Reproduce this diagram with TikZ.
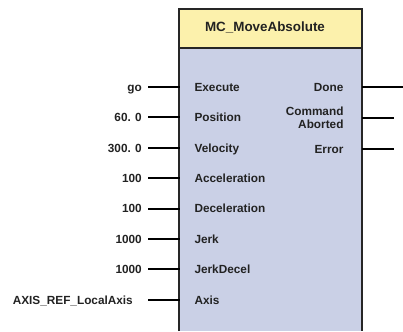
\documentclass[tikz,border=0pt]{standalone}
\usepackage{fontspec}
\setmainfont{Liberation Sans}
\usepackage{xcolor}
\usetikzlibrary{positioning,calc}

\definecolor{headyellow}{HTML}{FCF1AC}
\definecolor{bodyblue}{HTML}{CAD0E6}
\definecolor{txtgrey}{HTML}{222222}

\tikzset{
    pintext/.style={font=\fontsize{11.8}{13}\selectfont\bfseries, text=txtgrey, text height=8.5pt, text depth=0pt},
    pinname/.style={pintext, anchor=west},
    outname/.style={pintext, anchor=east, align=right},
    inval/.style={pintext, anchor=east, inner xsep=0pt},
    wire/.style={line width=2pt, black}
}

\begin{document}
\begin{tikzpicture}[x=1pt, y=1pt]
        \useasboundingbox (0, 0) rectangle (403, 331);

        % block
        \fill [bodyblue] (179, 0) rectangle (362, 283);
        \fill [headyellow] (179, 283) rectangle (362, 322);
        \draw [line width=1.6pt, black!85] (179, 0) -- (179, 322) -- (362, 322) -- (362, 0);
        \draw [line width=1.6pt, black!85] (179, 283) -- (362, 283);
        \node [font=\fontsize{13.4}{15}\selectfont\bfseries, text=txtgrey] (title) at (265, 304) {MC\_MoveAbsolute};

        % inputs
        \foreach \i/\pin/\val/\gap [count=\n] in {1/Execute/go/6, 2/Position/60. 0/6, 3/Velocity/300. 0/6,
            4/Acceleration/100/6, 5/Deceleration/100/6, 6/Jerk/1000/6, 7/JerkDecel/1000/6,
            8/Axis/AXIS\_REF\_LocalAxis/15} {
            \pgfmathsetmacro{\yy}{331 - 87 - 30.4*(\n-1)}
            \coordinate (in\i) at (180, \yy);
            \coordinate (lead\i) at (148, \yy);
            \node [pinname] (pin\i) at (191, \yy) {\pin};
            \node [inval, left=\gap pt of lead\i] (val\i) {\val};
            \draw [wire] (lead\i) -- (in\i);
        }

        % outputs
        \node [outname] (done) at (347, 244) {Done};
        \node [outname, text height=, text depth=, font=\fontsize{11.8}{13}\selectfont\bfseries] (abort) at (347, 213) {Command\\Aborted};
        \node [outname] (error) at (347, 182) {Error};
        \coordinate (outdone) at (403, 244);
        \coordinate (outabort) at (394, 213);
        \coordinate (outerror) at (394, 182);
        \draw [wire] (362, 244) -- (outdone);
        \draw [wire] (362, 213) -- (outabort);
        \draw [wire] (362, 182) -- (outerror);
\end{tikzpicture}
\end{document}
